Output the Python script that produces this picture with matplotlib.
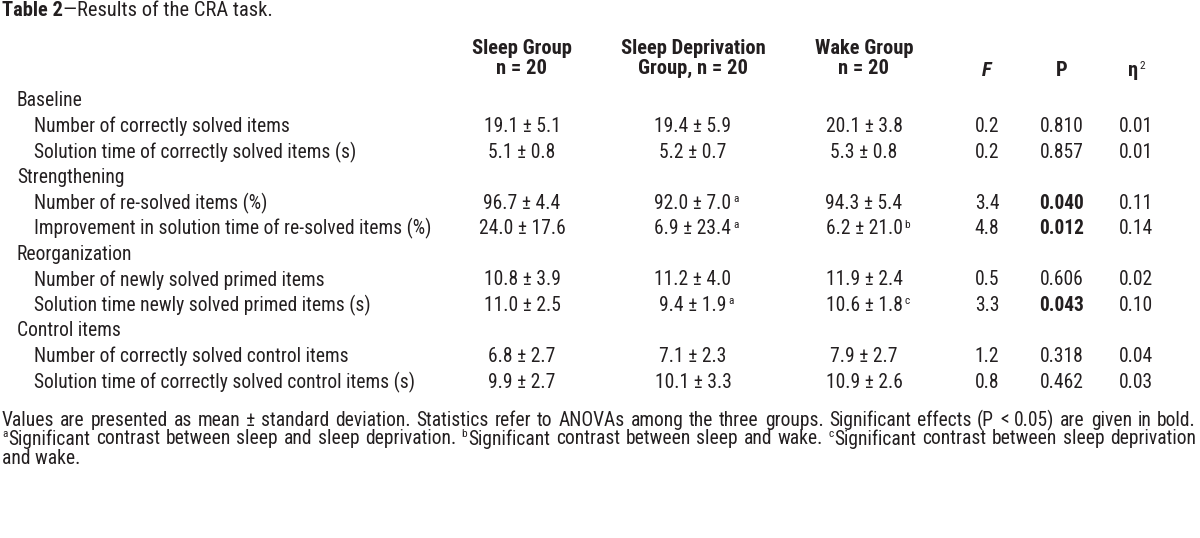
import matplotlib
matplotlib.use("Agg")
import matplotlib.pyplot as plt
from matplotlib import font_manager

_avail = {f.name for f in font_manager.fontManager.ttflist}
_pref = ['Liberation Sans Narrow', 'Arial Narrow', 'Roboto Condensed', 'Archivo Narrow', 'Liberation Sans']
_main = next((n for n in _pref if n in _avail), 'DejaVu Sans')
plt.rcParams['font.family'] = [_main, 'DejaVu Sans']

W, H = 1200, 538
INK = '#231f20'

title_bold = "Table 2"
title_rest = "\u2014Results of the CRA task."

col_headers = [("Sleep Group", "n = 20"), ("Sleep Deprivation", "Group, n = 20"), ("Wake Group", "n = 20")]
stat_headers = ["F", "P", "\u03b7"]

row_labels = ["Baseline",
              "Number of correctly solved items",
              "Solution time of correctly solved items (s)",
              "Strengthening",
              "Number of re-solved items (%)",
              "Improvement in solution time of re-solved items (%)",
              "Reorganization",
              "Number of newly solved primed items",
              "Solution time newly solved primed items (s)",
              "Control items",
              "Number of correctly solved control items",
              "Solution time of correctly solved control items (s)"]
row_is_group = [True, False, False, True, False, False, True, False, False, True, False, False]

sleep_vals = ["", "19.1 \u00b1 5.1", "5.1 \u00b1 0.8", "", "96.7 \u00b1 4.4", "24.0 \u00b1 17.6", "",
              "10.8 \u00b1 3.9", "11.0 \u00b1 2.5", "", "6.8 \u00b1 2.7", "9.9 \u00b1 2.7"]
sd_vals = ["", "19.4 \u00b1 5.9", "5.2 \u00b1 0.7", "", "92.0 \u00b1 7.0", "6.9 \u00b1 23.4", "",
           "11.2 \u00b1 4.0", "9.4 \u00b1 1.9", "", "7.1 \u00b1 2.3", "10.1 \u00b1 3.3"]
sd_sup = ["", "", "", "", "a", "a", "", "", "a", "", "", ""]
wake_vals = ["", "20.1 \u00b1 3.8", "5.3 \u00b1 0.8", "", "94.3 \u00b1 5.4", "6.2 \u00b1 21.0", "",
             "11.9 \u00b1 2.4", "10.6 \u00b1 1.8", "", "7.9 \u00b1 2.7", "10.9 \u00b1 2.6"]
wake_sup = ["", "", "", "", "", "b", "", "", "c", "", "", ""]
f_vals = ["", "0.2", "0.2", "", "3.4", "4.8", "", "0.5", "3.3", "", "1.2", "0.8"]
p_vals = ["", "0.810", "0.857", "", "0.040", "0.012", "", "0.606", "0.043", "", "0.318", "0.462"]
p_bold = [False, False, False, False, True, True, False, False, True, False, False, False]
eta_vals = ["", "0.01", "0.01", "", "0.11", "0.14", "", "0.02", "0.10", "", "0.04", "0.03"]

foot1 = "Values are presented as mean \u00b1 standard deviation. Statistics refer to ANOVAs among the three groups. Significant effects (P < 0.05) are given in bold."
foot2 = [("a", True), ("Significant contrast between sleep and sleep deprivation.", False),
         ("b", True), ("Significant contrast between sleep and wake.", False),
         ("c", True), ("Significant contrast between sleep deprivation", False)]
foot3 = "and wake."

fig = plt.figure(figsize=(W / 100, H / 100), dpi=100)
fig.patch.set_facecolor('white')
renderer = fig.canvas.get_renderer()


def fx(x):
    return x / W


def fy(y):
    return 1 - y / H


def width_px(t):
    return t.get_window_extent(renderer=renderer).width


# fit font size so a reference label has the reference width (~254 px)
_probe = fig.text(0, 0, row_labels[1], fontsize=10)
FS = 10 * 254.0 / width_px(_probe)
_probe.remove()
HFS = FS * 1.05
SUP = FS * 0.58


def T(x, y, s, ha='left', **kw):
    kw.setdefault('fontsize', FS)
    kw.setdefault('color', INK)
    return fig.text(fx(x), fy(y), s, ha=ha, va='center', **kw)


def sup_after(tv, s, gap=2):
    bb = tv.get_window_extent(renderer=renderer)
    return fig.text(fx(bb.x1 + gap), (bb.y1 - 0.5) / H, s, ha='left', va='top',
                    fontsize=SUP, color=INK)


# title
t = T(2, 10, title_bold, fontweight='bold', fontsize=HFS)
T(2 + width_px(t), 10, title_rest, fontsize=HFS)

# headers
col_x = [522, 693, 864]
for cx, (l1, l2) in zip(col_x, col_headers):
    T(cx, 49, l1, ha='center', fontweight='bold', fontsize=HFS)
    T(cx, 68, l2, ha='center', fontweight='bold', fontsize=HFS)
stat_x = [987, 1062, 1136]
T(stat_x[0], 70, stat_headers[0], ha='center', fontweight='bold', fontstyle='italic', fontsize=HFS)
T(stat_x[1], 70, stat_headers[1], ha='center', fontweight='bold', fontsize=HFS)
te = T(stat_x[2] - 3, 70, stat_headers[2], ha='center', fontweight='bold', fontsize=HFS)
sup_after(te, "2", gap=1)

# rows
y0, dy = 101, 25.55
for i, lab in enumerate(row_labels):
    y = y0 + i * dy
    T(17 if row_is_group[i] else 34, y, lab)
    if row_is_group[i]:
        continue
    T(col_x[0], y, sleep_vals[i], ha='center')
    for cx, vals, sups in ((col_x[1], sd_vals, sd_sup), (col_x[2], wake_vals, wake_sup)):
        tv = T(cx, y, vals[i], ha='center')
        if sups[i]:
            sup_after(tv, sups[i], gap=2)
    T(stat_x[0], y, f_vals[i], ha='center')
    T(stat_x[1], y, p_vals[i], ha='center', fontweight='bold' if p_bold[i] else 'normal')
    T(stat_x[2], y, eta_vals[i], ha='center')


# footnotes (justified lines)
def justified(y, words, x0, x1):
    """words: list of lists of (text, is_sup) runs."""
    arts = []
    widths = []
    for w in words:
        ra = []
        tot = 0
        for s, is_sup in w:
            if is_sup:
                a = fig.text(0, fy(y - 5), s, ha='left', va='center', fontsize=SUP, color=INK)
                wd = width_px(a) + 1
            else:
                a = fig.text(0, fy(y), s, ha='left', va='center', fontsize=FS, color=INK)
                wd = width_px(a)
            ra.append((a, wd))
            tot += wd
        arts.append(ra)
        widths.append(tot)
    gap = (x1 - x0 - sum(widths)) / max(len(words) - 1, 1)
    x = x0
    for ra, tw in zip(arts, widths):
        xx = x
        for a, wd in ra:
            a.set_x(fx(xx))
            xx += wd
        x += tw + gap


def split_runs(runs):
    words = []
    cur = []
    for s, is_sup in runs:
        if is_sup:
            if cur:
                words.append(cur)
            cur = [(s, True)]
            continue
        parts = s.split(' ')
        for k, p in enumerate(parts):
            if k > 0:
                if cur:
                    words.append(cur)
                cur = []
            if p:
                cur.append((p, False))
    if cur:
        words.append(cur)
    return words


w1 = [[(p, False)] for p in foot1.split(' ')]
justified(420, w1, 2, 1196)
justified(439, split_runs(foot2), 2, 1196)
T(2, 458, foot3)

fig.savefig('out.png', dpi=100, facecolor='white')
